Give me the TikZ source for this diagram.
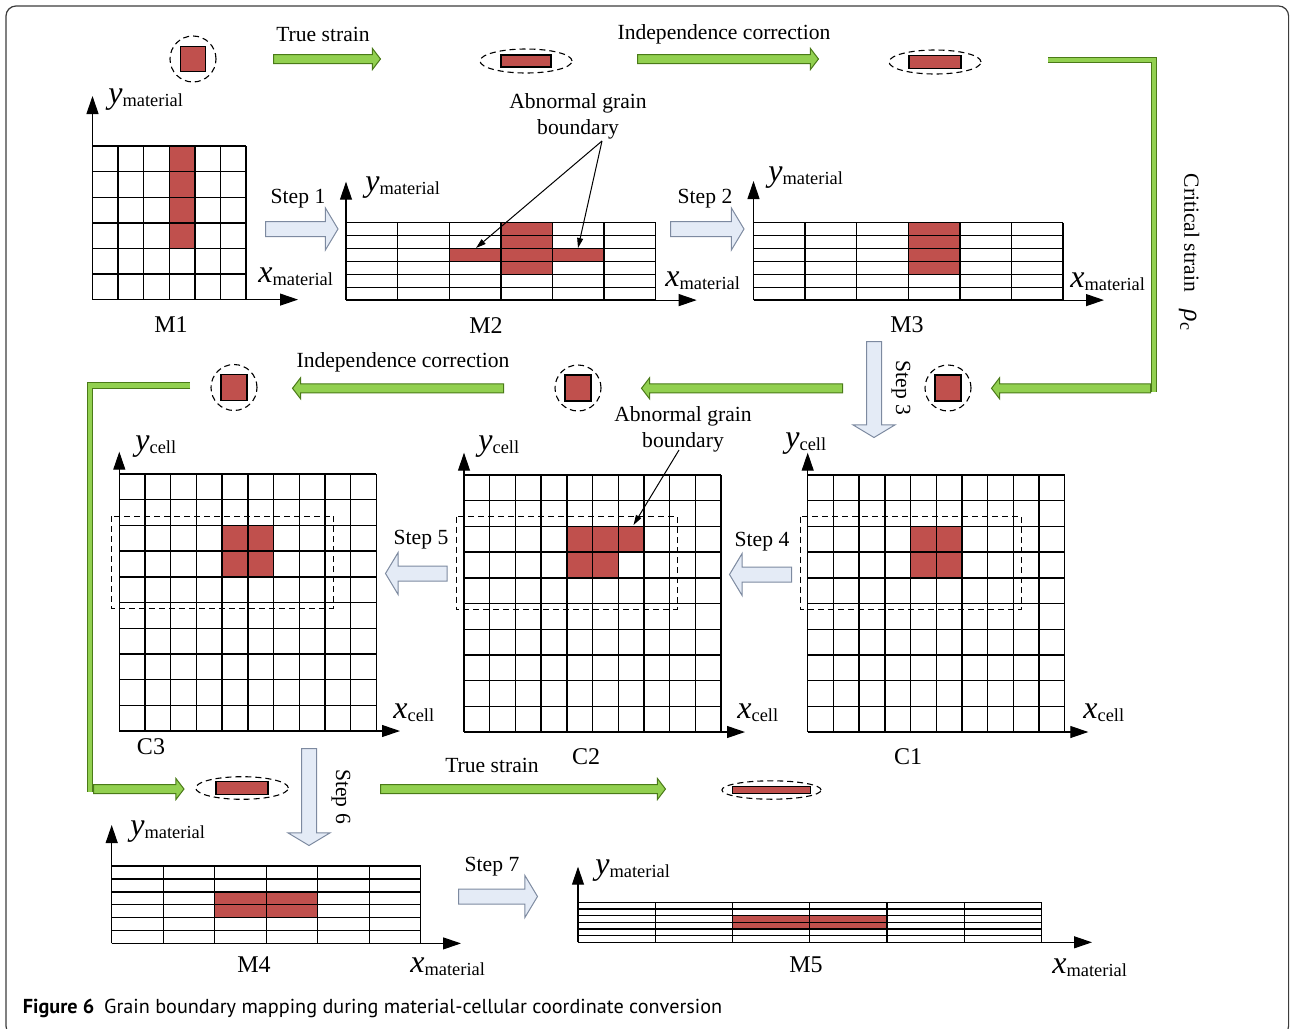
\documentclass[tikz,border=0pt]{standalone}
\usepackage{fontspec}
\setmainfont{Liberation Serif}
\newfontfamily\captionfont{PT Sans}
\usetikzlibrary{arrows.meta,positioning,calc,shapes.arrows,shapes.geometric}

\definecolor{grainred}{HTML}{C0504D}
\definecolor{straingreen}{HTML}{92D050}
\definecolor{straindark}{HTML}{4A7A18}
\definecolor{stepfill}{HTML}{E4EBF6}
\definecolor{stepdraw}{HTML}{7D8AA0}
\definecolor{framegray}{HTML}{3C3C3C}

% axis label: big italic letter with a small roman index
\newcommand{\axlab}[2]{{\fontsize{16}{16}\selectfont\itshape #1}\raisebox{-1.5pt}{\fontsize{9.2}{10}\selectfont #2}}
% cell grid: x0, y0, columns, rows, cell width, cell height
\newcommand{\cellgrid}[6]{%
  \foreach \gi in {0,...,#3}
    \draw[gridline] ({#1+\gi*#5},#2) -- ({#1+\gi*#5},{#2+#4*#6});
  \foreach \gj in {0,...,#4}
    \draw[gridline] (#1,{#2+\gj*#6}) -- ({#1+#3*#5},{#2+\gj*#6});
}

\tikzset{
  gridline/.style={line width=0.7pt},
  grain/.style={fill=grainred},
  zone/.style={line width=0.5pt, dash pattern=on 3pt off 2pt},
  txt/.style={font=\fontsize{10.8}{13}\selectfont, inner sep=0pt, align=center},
  maplabel/.style={font=\fontsize{12}{14}\selectfont, inner sep=0pt},
  axlabel/.style={anchor=base west, inner sep=0pt},
  axisarrow/.style={line width=0.55pt, -{Triangle[length=9pt,width=6pt]}},
  pointer/.style={line width=0.5pt, -{Triangle[length=5pt,width=3pt]}},
  halo/.style={draw, line width=0.55pt, dash pattern=on 3pt off 2pt, inner sep=0pt},
  grainbox/.style={draw, fill=grainred, line width=0.6pt, inner sep=0pt},
  strainarrow/.style={single arrow, draw=straindark, fill=straingreen, line width=0.5pt,
    inner xsep=0pt, inner ysep=2pt, single arrow head extend=3pt,
    single arrow tip angle=105, single arrow head indent=0pt, anchor=tail},
  steparrow/.style={single arrow, draw=stepdraw, fill=stepfill, line width=0.5pt,
    inner xsep=0pt, inner ysep=3.5pt, single arrow head extend=6.75pt,
    single arrow tip angle=118, single arrow head indent=0pt, anchor=tail},
  greenbar/.style={draw=straindark, line width=0.5pt, double=straingreen, double distance=2.2pt, line join=miter}
}

\begin{document}
\begin{tikzpicture}[x=0.5pt,y=-0.5pt]
\useasboundingbox (0,0) rectangle (1290,1028);
\clip (0,0) rectangle (1290,1028);
\draw[framegray, line width=0.6pt, rounded corners=5pt] (6,6) rectangle (1288.6,1036);

% top row: grain shape in material coordinates
\node[halo, circle, minimum size=23pt] (haloA) at (193,59) {};
\node[grainbox, minimum width=12.5pt, minimum height=12.5pt] (grainA) at (haloA) {};
\node[halo, ellipse, minimum width=46pt, minimum height=12pt] (haloB) at (526,61) {};
\node[grainbox, minimum width=25pt, minimum height=6pt] (grainB) at (haloB) {};
\node[halo, ellipse, minimum width=46pt, minimum height=12pt] (haloC) at (935,62) {};
\node[grainbox, minimum width=26pt, minimum height=6.5pt] (grainC) at (haloC) {};
\node[strainarrow, minimum height=53.5pt] (strainA) at (273,59) {};
\node[txt] (strainAlab) at (323,34) {True strain};
\node[strainarrow, minimum height=90.5pt] (strainB) at (637,59) {};
\node[txt] (strainBlab) at (724,34) {Independence correction};

% critical strain loop on the right
\coordinate (critA) at (1048,60);
\coordinate (critB) at (1154,60);
\coordinate (critC) at (1154,392);
\draw[greenbar] (critA) -- (critB) -- (critC);
\node[strainarrow, rotate=180, minimum height=79.5pt] (strainC) at (1151,388.3) {};
\node[txt, rotate=-90] (critlab) at (1189,252) {Critical strain\hspace{9pt}{\fontsize{13}{13}\selectfont\itshape ρ}\raisebox{-2pt}{\fontsize{9}{9}\selectfont c}};

% M1
\fill[grain] (169.3,146) rectangle ++(25.6,102.4);
\cellgrid{92.5}{146}{6}{6}{25.6}{25.6}
\coordinate (oM1) at (92.5,299.6);
\coordinate (yM1) at (92.5,96);
\coordinate (xM1) at (298,299.6);
\draw[axisarrow] (oM1) -- (yM1);
\draw[axisarrow] (oM1) -- (xM1);
\node[axlabel] (yM1lab) at (108,103.5) {\axlab{y}{material}};
\node[axlabel] (xM1lab) at (258,282) {\axlab{x}{material}};
\node[maplabel] (M1) at (171,325) {M1};

\node[steparrow, minimum height=36.25pt] (stepA) at (265,229) {};
\node[txt] (stepAlab) at (298,199) {Step 1};

% M2
\fill[grain] (500.8,222.7) rectangle ++(51.6,51.6);
\fill[grain] (449.2,248.5) rectangle ++(154.8,12.9);
\cellgrid{346}{222.7}{6}{6}{51.6}{12.9}
\coordinate (oM2) at (346,300.1);
\coordinate (yM2) at (346,181.7);
\coordinate (xM2) at (696.7,300.1);
\draw[axisarrow] (oM2) -- (yM2);
\draw[axisarrow] (oM2) -- (xM2);
\node[axlabel] (yM2lab) at (365,191) {\axlab{y}{material}};
\node[axlabel] (xM2lab) at (665,286) {\axlab{x}{material}};
\node[maplabel] (M2) at (486,326) {M2};

\node[txt] (abtop) at (578,116) {Abnormal grain\\boundary};
\coordinate (abfork) at (602,141);
\coordinate (abtipL) at (476,248);
\coordinate (abtipR) at (578,248);
\draw[pointer] (abfork) -- (abtipL);
\draw[pointer] (abfork) -- (abtipR);

\node[steparrow, minimum height=36.75pt] (stepB) at (670,229) {};
\node[txt] (stepBlab) at (705,199) {Step 2};

% M3
\fill[grain] (908.3,222.7) rectangle ++(51.6,51.6);
\cellgrid{753.5}{222.7}{6}{6}{51.6}{12.9}
\coordinate (oM3) at (753.5,300.1);
\coordinate (yM3) at (753.5,181);
\coordinate (xM3) at (1104,300.1);
\draw[axisarrow] (oM3) -- (yM3);
\draw[axisarrow] (oM3) -- (xM3);
\node[axlabel] (yM3lab) at (768,181) {\axlab{y}{material}};
\node[axlabel] (xM3lab) at (1070,287) {\axlab{x}{material}};
\node[maplabel] (M3) at (907,325) {M3};

\node[steparrow, rotate=-90, minimum height=48pt] (stepC) at (874,341) {};
\node[txt, rotate=-90] (stepClab) at (901,388) {Step 3};

% middle row: grain shape in cell coordinates
\node[halo, circle, minimum size=23pt] (haloD) at (948,388) {};
\node[grainbox, minimum width=13pt, minimum height=13pt] (grainD) at (haloD) {};
\node[halo, circle, minimum size=23pt] (haloE) at (578,388) {};
\node[grainbox, minimum width=13pt, minimum height=13pt] (grainE) at (haloE) {};
\node[halo, circle, minimum size=23pt] (haloF) at (234,387.5) {};
\node[grainbox, minimum width=13pt, minimum height=13pt] (grainF) at (haloF) {};
\node[strainarrow, rotate=180, minimum height=100.5pt] (strainD) at (843,388.3) {};
\node[strainarrow, rotate=180, minimum height=105.5pt] (strainE) at (504,388.3) {};
\node[txt] (strainElab) at (403,362.5) {Independence correction};

% C1
\fill[grain] (910.5,526.4) rectangle ++(51.4,51.4);
\cellgrid{807.7}{475}{10}{10}{25.7}{25.7}
\draw[zone] (800.7,516.7) rectangle (1021.7,609.3);
\coordinate (oC1) at (807.7,732);
\coordinate (yC1) at (807.7,452.7);
\coordinate (xC1) at (1088.3,732);
\draw[axisarrow] (oC1) -- (yC1);
\draw[axisarrow] (oC1) -- (xC1);
\node[axlabel] (yC1lab) at (785,447) {\axlab{y}{cell}};
\node[axlabel] (xC1lab) at (1083,718.5) {\axlab{x}{cell}};
\node[maplabel] (C1) at (908,757) {C1};

\node[steparrow, rotate=180, minimum height=31pt] (stepD) at (792,574.5) {};
\node[txt] (stepDlab) at (762,542) {Step 4};

% C2
\fill[grain] (566.8,526.4) rectangle ++(77.1,25.7);
\fill[grain] (566.8,552.1) rectangle ++(51.4,25.7);
\cellgrid{464}{475}{10}{10}{25.7}{25.7}
\draw[zone] (456,516.7) rectangle (677.3,609.3);
\coordinate (oC2) at (464,732);
\coordinate (yC2) at (464,452.7);
\coordinate (xC2) at (745,732);
\draw[axisarrow] (oC2) -- (yC2);
\draw[axisarrow] (oC2) -- (xC2);
\node[axlabel] (yC2lab) at (478,450) {\axlab{y}{cell}};
\node[axlabel] (xC2lab) at (737,718.5) {\axlab{x}{cell}};
\node[maplabel] (C2) at (586,757) {C2};

\node[txt] (abmid) at (683,429) {Abnormal grain\\boundary};
\coordinate (abmidfoot) at (679,450);
\coordinate (abmidtip) at (633.5,525);
\draw[pointer] (abmidfoot) -- (abmidtip);

\node[steparrow, rotate=180, minimum height=30.75pt] (stepE) at (447.5,573.5) {};
\node[txt] (stepElab) at (421,540) {Step 5};

% C3
\fill[grain] (222.1,525.4) rectangle ++(51.4,51.4);
\cellgrid{119.3}{474}{10}{10}{25.7}{25.7}
\draw[zone] (111.7,516) rectangle (333.3,608.3);
\coordinate (oC3) at (119.3,731);
\coordinate (yC3) at (119.3,451.7);
\coordinate (xC3) at (400,731);
\draw[axisarrow] (oC3) -- (yC3);
\draw[axisarrow] (oC3) -- (xC3);
\node[axlabel] (yC3lab) at (135,450) {\axlab{y}{cell}};
\node[axlabel] (xC3lab) at (393,718.5) {\axlab{x}{cell}};
\node[maplabel] (C3) at (151,747) {C3};

% critical strain loop on the left
\coordinate (critD) at (190,385.5);
\coordinate (critE) at (90,385.5);
\coordinate (critF) at (90,792);
\draw[greenbar] (critD) -- (critE) -- (critF);
\node[strainarrow, minimum height=45.25pt] (strainF) at (93,789) {};

% bottom row
\node[halo, ellipse, minimum width=46.3pt, minimum height=11.3pt] (haloG) at (242,788) {};
\node[grainbox, minimum width=26pt, minimum height=6.5pt] (grainG) at (haloG) {};
\node[halo, ellipse, minimum width=49.6pt, minimum height=9.2pt] (haloH) at (771.5,790) {};
\node[grainbox, minimum width=39pt, minimum height=3.3pt] (grainH) at (haloH) {};
\node[strainarrow, minimum height=142.5pt] (strainG) at (380,789) {};
\node[txt] (strainGlab) at (492,765) {True strain};

\node[steparrow, rotate=-90, minimum height=48.5pt] (stepF) at (309,748) {};
\node[txt, rotate=-90] (stepFlab) at (341,796.5) {Step 6};

% M4
\fill[grain] (214.7,891.8) rectangle ++(103,25.8);
\cellgrid{111.7}{866}{6}{6}{51.5}{12.9}
\coordinate (oM4) at (111.7,943.4);
\coordinate (yM4) at (111.7,825);
\coordinate (xM4) at (461,943.4);
\draw[axisarrow] (oM4) -- (yM4);
\draw[axisarrow] (oM4) -- (xM4);
\node[axlabel] (yM4lab) at (130,835.5) {\axlab{y}{material}};
\node[axlabel] (xM4lab) at (410,972) {\axlab{x}{material}};
\node[maplabel] (M4) at (254,965) {M4};

\node[steparrow, minimum height=39.5pt] (stepG) at (458,896.5) {};
\node[txt] (stepGlab) at (492,867) {Step 7};

% M5
\fill[grain] (732.5,915.64) rectangle ++(154.5,13.34);
\cellgrid{578}{902.3}{6}{6}{77.25}{6.67}
\coordinate (oM5) at (578,942.3);
\coordinate (yM5) at (578,866.7);
\coordinate (xM5) at (1092,942.3);
\draw[axisarrow] (oM5) -- (yM5);
\draw[axisarrow] (oM5) -- (xM5);
\node[axlabel] (yM5lab) at (595,874) {\axlab{y}{material}};
\node[axlabel] (xM5lab) at (1052,973) {\axlab{x}{material}};
\node[maplabel] (M5) at (806,965) {M5};

% caption
\node[anchor=base west, inner sep=0pt, font=\captionfont\fontsize{10.1}{12}\selectfont] (caption) at (22.5,1013)
  {\textbf{Figure 6}\hspace{5pt}Grain boundary mapping during material-cellular coordinate conversion};
\end{tikzpicture}
\end{document}
